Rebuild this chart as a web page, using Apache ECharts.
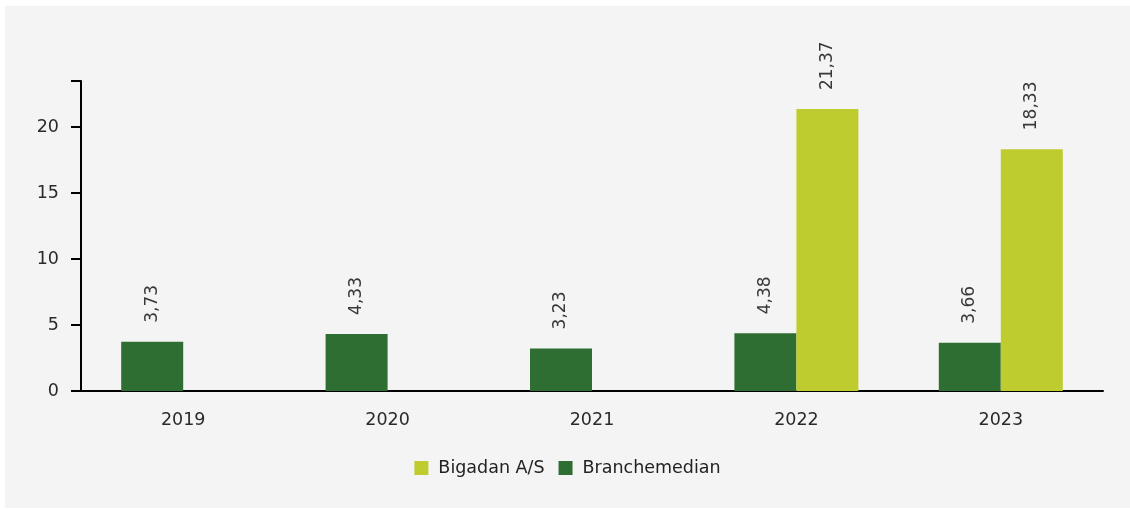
<!DOCTYPE html>
<html>
<head>
<meta charset="utf-8">
<script src="https://cdn.jsdelivr.net/npm/echarts@6/dist/echarts.min.js"></script>
<style>
  html, body { margin: 0; padding: 0; background: #ffffff; }
  #chart { position: absolute; left: 5px; top: 6px; width: 1125px; height: 502px; background: #f4f4f4; }
</style>
</head>
<body>
<div id="chart"></div>
<script>
// Years on the category axis
const years = ['2019', '2020', '2021', '2022', '2023'];
// Industry median per year
const branchemedian = [3.73, 4.33, 3.23, 4.38, 3.66];
// Company values (only reported for the last two years)
const bigadan = [null, null, null, 21.37, 18.33];
// Value-axis ticks
const yTicks = [0, 5, 10, 15, 20];

const FONT = '"DejaVu Sans", Verdana, sans-serif';
const DARK = '#2f6e32';
const LIGHT = '#bfcc30';

function fmt(v) {
  return v.toFixed(2).replace('.', ',');
}

const labelStyle = {
  show: true,
  position: 'top',
  rotate: 90,
  align: 'left',
  verticalAlign: 'middle',
  distance: 19,
  color: '#383838',
  fontFamily: FONT,
  fontSize: 17,
  formatter: p => (p.value == null ? '' : fmt(p.value))
};

const chart = echarts.init(document.getElementById('chart'));
chart.setOption({
  animation: false,
  backgroundColor: '#f4f4f4',
  grid: { left: 76, right: 27, top: 75, bottom: 117, containLabel: false },
  legend: {
    data: ['Bigadan A/S', 'Branchemedian'],
    left: 'center',
    top: 448,
    itemWidth: 14,
    itemHeight: 14,
    itemGap: 14,
    icon: 'rect',
    textStyle: { fontFamily: FONT, fontSize: 17.5, color: '#222', padding: [0, 0, 0, 5] }
  },
  xAxis: {
    type: 'category',
    data: years,
    axisLine: { lineStyle: { color: '#000', width: 2 } },
    axisTick: { alignWithLabel: true, length: 9, lineStyle: { color: '#000', width: 2 } },
    axisLabel: { margin: 20, fontFamily: FONT, fontSize: 17.5, color: '#2a2a2a' }
  },
  yAxis: {
    type: 'value',
    min: 0,
    max: 23.5,
    interval: 5,
    axisLine: { show: true, lineStyle: { color: '#000', width: 2 } },
    axisTick: { show: true, length: 10, lineStyle: { color: '#000', width: 2 } },
    splitLine: { show: false },
    axisLabel: {
      margin: 22,
      fontFamily: FONT,
      fontSize: 17.5,
      color: '#2a2a2a',
      formatter: v => (yTicks.includes(v) ? String(v) : '')
    }
  },
  series: [
    {
      name: 'Branchemedian',
      type: 'bar',
      data: branchemedian,
      barWidth: 62,
      barGap: '0%',
      itemStyle: { color: DARK },
      label: labelStyle
    },
    {
      name: 'Bigadan A/S',
      type: 'bar',
      data: bigadan,
      barWidth: 62,
      barGap: '0%',
      itemStyle: { color: LIGHT },
      label: labelStyle
    }
  ]
});
</script>
</body>
</html>
